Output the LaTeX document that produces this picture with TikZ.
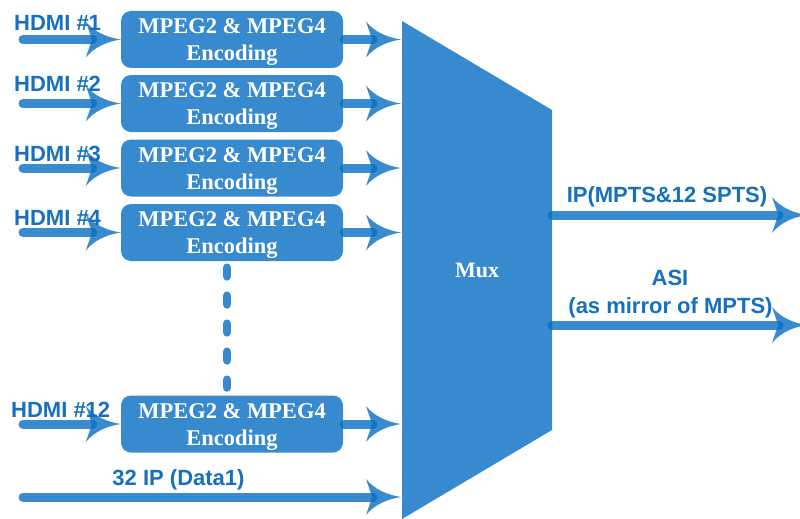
\documentclass[tikz,border=0pt]{standalone}
\usepackage{fontspec}
\setmainfont{Liberation Serif}
\newfontfamily\sansf{Liberation Sans}
\usetikzlibrary{arrows.meta}
\definecolor{boxc}{RGB}{55,138,206}
\definecolor{lnc}{RGB}{8,110,194}
\definecolor{lblc}{RGB}{22,112,192}
\pgfdeclarearrow{
  name = Flare,
  setup code = {
    \pgfarrowssettipend{0pt}
    \pgfarrowssetlineend{-28pt}
    \pgfarrowssetbackend{-35pt}
    \pgfarrowsupperhullpoint{-35pt}{18pt}
    \pgfarrowsupperhullpoint{0pt}{0pt}
  },
  drawing code = {
    \pgfpathmoveto{\pgfpoint{0pt}{0pt}}
    \pgfpathcurveto{\pgfpoint{-13pt}{2pt}}{\pgfpoint{-26pt}{7pt}}{\pgfpoint{-35pt}{18pt}}
    \pgfpathcurveto{\pgfpoint{-32pt}{9pt}}{\pgfpoint{-30pt}{4pt}}{\pgfpoint{-29pt}{0pt}}
    \pgfpathcurveto{\pgfpoint{-30pt}{-4pt}}{\pgfpoint{-32pt}{-9pt}}{\pgfpoint{-35pt}{-18pt}}
    \pgfpathcurveto{\pgfpoint{-26pt}{-7pt}}{\pgfpoint{-13pt}{-2pt}}{\pgfpoint{0pt}{0pt}}
    \pgfpathclose
    \pgfusepathqfill
  }
}
\tikzset{
  enc/.style={rectangle, rounded corners=10pt, fill=boxc, minimum width=222pt,
    minimum height=57pt, inner sep=0pt},
  enctext/.style={align=center, text=white, inner sep=0pt, yshift=-2.5pt,
    font=\bfseries\fontsize{22.5}{27}\selectfont},
  lbl/.style={text=lblc, inner sep=0pt, font=\sansf\bfseries\fontsize{22}{26}\selectfont},
  conn/.style={draw=lnc, fill=lnc, line width=9pt, line cap=round, opacity=0.8, -{Flare}},
  dotline/.style={draw=boxc, line width=8.5pt, line cap=round, dash pattern=on 8.7pt off 19.3pt},
}
\begin{document}
\begin{tikzpicture}[x=1pt,y=-1pt]
\useasboundingbox (0,0) rectangle (800,519);
% mux
\fill[boxc] (402,21) -- (552,110) -- (552,430) -- (402,519) -- cycle;
\node[font=\bfseries\fontsize{22}{26}\selectfont, text=white, inner sep=0pt, anchor=base] (mux) at (477,277) {Mux};
\coordinate (muxL) at (401,0);
\coordinate (o1) at (552,215);
\coordinate (o1e) at (807,215);
\coordinate (o2) at (552,325);
\coordinate (o2e) at (807,325);
% boxes
\node[enc] (b1) at (232,39.5) {};
\node[enc] (b2) at (232,103.5) {};
\node[enc] (b3) at (232,168) {};
\node[enc] (b4) at (232,232.5) {};
\node[enc] (b12) at (232,424) {};
\foreach \n in {1,2,3,4,12}{
  \node[enctext] (t\n) at (b\n.center) {MPEG2 \& MPEG4\\Encoding};
}
% labels
\node[lbl, anchor=base west] (l1) at (14,31) {HDMI \#1};
\node[lbl, anchor=base west] (l2) at (14,91) {HDMI \#2};
\node[lbl, anchor=base west] (l3) at (14,161) {HDMI \#3};
\node[lbl, anchor=base west] (l4) at (14,225) {HDMI \#4};
\node[lbl, anchor=base west] (l12) at (11,417) {HDMI \#12};
\node[lbl, anchor=base] (ld) at (178.5,485) {32 IP (Data1)};
\node[lbl, anchor=base] (lip) at (667,202) {IP(MPTS\&12 SPTS)};
\node[lbl, anchor=base] (lasi) at (670,285) {ASI};
\node[lbl, anchor=base] (lasi2) at (670.5,313) {(as mirror of MPTS)};
% input coordinates
\coordinate (i1) at (23,39.5);
\coordinate (i2) at (23,103.5);
\coordinate (i3) at (23,168);
\coordinate (i4) at (23,232.5);
\coordinate (i12) at (23,424);
\coordinate (d0) at (23,497);
% dotted
\draw[dotline, shorten <=6.5pt, shorten >=7.8pt] ([xshift=-5pt]b4.south) -- ([xshift=-5pt]b12.north);
% connectors
\foreach \n in {1,2,3,4,12}{
  \draw[conn] (i\n) -- (b\n.west);
  \draw[conn] ([xshift=1pt]b\n.east) -- (b\n.east -| muxL);
}
\draw[conn] (d0) -- (d0 -| muxL);
\draw[conn] (o1) -- (o1e);
\draw[conn] (o2) -- (o2e);
\end{tikzpicture}
\end{document}
